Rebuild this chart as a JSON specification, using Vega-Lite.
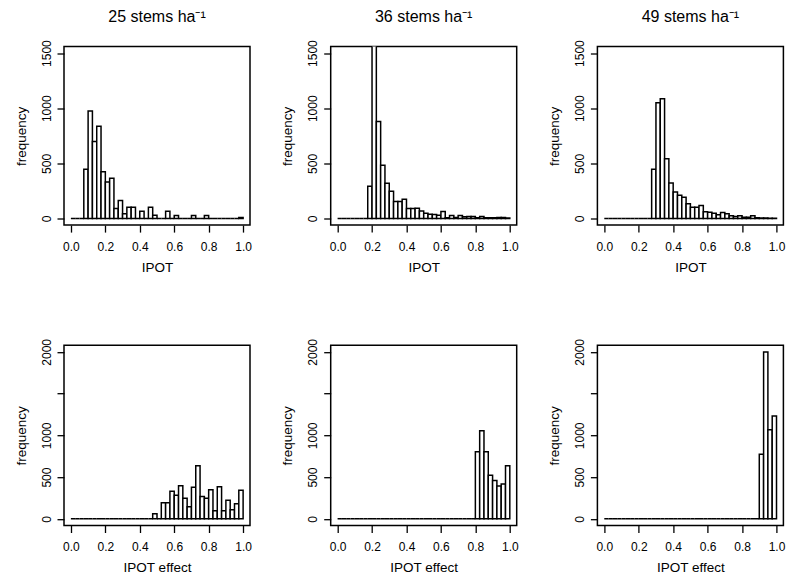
{
  "$schema": "https://vega.github.io/schema/vega-lite/v6.json",
  "padding": {"left": 13, "top": 7.5, "right": 5, "bottom": 5},
  "datasets": {
    "bins": [
      {"p":1,"lo":0,"hi":0.025,"n":0},{"p":1,"lo":0.025,"hi":0.05,"n":0},{"p":1,"lo":0.05,"hi":0.075,"n":0},{"p":1,"lo":0.075,"hi":0.1,"n":446},
      {"p":1,"lo":0.1,"hi":0.125,"n":976},{"p":1,"lo":0.125,"hi":0.15,"n":699},{"p":1,"lo":0.15,"hi":0.175,"n":837},{"p":1,"lo":0.175,"hi":0.2,"n":425},
      {"p":1,"lo":0.2,"hi":0.225,"n":331},{"p":1,"lo":0.225,"hi":0.25,"n":364},{"p":1,"lo":0.25,"hi":0.275,"n":90},{"p":1,"lo":0.275,"hi":0.3,"n":163},
      {"p":1,"lo":0.3,"hi":0.325,"n":42},{"p":1,"lo":0.325,"hi":0.35,"n":102},{"p":1,"lo":0.35,"hi":0.375,"n":102},{"p":1,"lo":0.375,"hi":0.4,"n":0},
      {"p":1,"lo":0.4,"hi":0.425,"n":66},{"p":1,"lo":0.425,"hi":0.45,"n":0},{"p":1,"lo":0.45,"hi":0.475,"n":102},{"p":1,"lo":0.475,"hi":0.5,"n":30},
      {"p":1,"lo":0.5,"hi":0.525,"n":0},{"p":1,"lo":0.525,"hi":0.55,"n":0},{"p":1,"lo":0.55,"hi":0.575,"n":66},{"p":1,"lo":0.575,"hi":0.6,"n":0},
      {"p":1,"lo":0.6,"hi":0.625,"n":27},{"p":1,"lo":0.625,"hi":0.65,"n":0},{"p":1,"lo":0.65,"hi":0.675,"n":0},{"p":1,"lo":0.675,"hi":0.7,"n":0},
      {"p":1,"lo":0.7,"hi":0.725,"n":27},{"p":1,"lo":0.725,"hi":0.75,"n":0},{"p":1,"lo":0.75,"hi":0.775,"n":0},{"p":1,"lo":0.775,"hi":0.8,"n":27},
      {"p":1,"lo":0.8,"hi":0.825,"n":0},{"p":1,"lo":0.825,"hi":0.85,"n":0},{"p":1,"lo":0.85,"hi":0.875,"n":0},{"p":1,"lo":0.875,"hi":0.9,"n":0},
      {"p":1,"lo":0.9,"hi":0.925,"n":0},{"p":1,"lo":0.925,"hi":0.95,"n":0},{"p":1,"lo":0.95,"hi":0.975,"n":0},{"p":1,"lo":0.975,"hi":1,"n":8},

      {"p":2,"lo":0,"hi":0.025,"n":0},{"p":2,"lo":0.025,"hi":0.05,"n":0},{"p":2,"lo":0.05,"hi":0.075,"n":0},{"p":2,"lo":0.075,"hi":0.1,"n":0},
      {"p":2,"lo":0.1,"hi":0.125,"n":0},{"p":2,"lo":0.125,"hi":0.15,"n":0},{"p":2,"lo":0.15,"hi":0.175,"n":0},{"p":2,"lo":0.175,"hi":0.2,"n":292},
      {"p":2,"lo":0.2,"hi":0.225,"n":1600},{"p":2,"lo":0.225,"hi":0.25,"n":880},{"p":2,"lo":0.25,"hi":0.275,"n":482},{"p":2,"lo":0.275,"hi":0.3,"n":319},
      {"p":2,"lo":0.3,"hi":0.325,"n":247},{"p":2,"lo":0.325,"hi":0.35,"n":154},{"p":2,"lo":0.35,"hi":0.375,"n":154},{"p":2,"lo":0.375,"hi":0.4,"n":175},
      {"p":2,"lo":0.4,"hi":0.425,"n":90},{"p":2,"lo":0.425,"hi":0.45,"n":90},{"p":2,"lo":0.45,"hi":0.475,"n":93},{"p":2,"lo":0.475,"hi":0.5,"n":69},
      {"p":2,"lo":0.5,"hi":0.525,"n":48},{"p":2,"lo":0.525,"hi":0.55,"n":39},{"p":2,"lo":0.55,"hi":0.575,"n":36},{"p":2,"lo":0.575,"hi":0.6,"n":30},
      {"p":2,"lo":0.6,"hi":0.625,"n":63},{"p":2,"lo":0.625,"hi":0.65,"n":6},{"p":2,"lo":0.65,"hi":0.675,"n":27},{"p":2,"lo":0.675,"hi":0.7,"n":8},
      {"p":2,"lo":0.7,"hi":0.725,"n":27},{"p":2,"lo":0.725,"hi":0.75,"n":15},{"p":2,"lo":0.75,"hi":0.775,"n":18},{"p":2,"lo":0.775,"hi":0.8,"n":18},
      {"p":2,"lo":0.8,"hi":0.825,"n":6},{"p":2,"lo":0.825,"hi":0.85,"n":18},{"p":2,"lo":0.85,"hi":0.875,"n":6},{"p":2,"lo":0.875,"hi":0.9,"n":6},
      {"p":2,"lo":0.9,"hi":0.925,"n":6},{"p":2,"lo":0.925,"hi":0.95,"n":10},{"p":2,"lo":0.95,"hi":0.975,"n":10},{"p":2,"lo":0.975,"hi":1,"n":5},

      {"p":3,"lo":0,"hi":0.025,"n":0},{"p":3,"lo":0.025,"hi":0.05,"n":0},{"p":3,"lo":0.05,"hi":0.075,"n":0},{"p":3,"lo":0.075,"hi":0.1,"n":0},
      {"p":3,"lo":0.1,"hi":0.125,"n":0},{"p":3,"lo":0.125,"hi":0.15,"n":0},{"p":3,"lo":0.15,"hi":0.175,"n":0},{"p":3,"lo":0.175,"hi":0.2,"n":0},
      {"p":3,"lo":0.2,"hi":0.225,"n":0},{"p":3,"lo":0.225,"hi":0.25,"n":0},{"p":3,"lo":0.25,"hi":0.275,"n":0},{"p":3,"lo":0.275,"hi":0.3,"n":446},
      {"p":3,"lo":0.3,"hi":0.325,"n":1049},{"p":3,"lo":0.325,"hi":0.35,"n":1085},{"p":3,"lo":0.35,"hi":0.375,"n":542},{"p":3,"lo":0.375,"hi":0.4,"n":322},
      {"p":3,"lo":0.4,"hi":0.425,"n":241},{"p":3,"lo":0.425,"hi":0.45,"n":211},{"p":3,"lo":0.45,"hi":0.475,"n":193},{"p":3,"lo":0.475,"hi":0.5,"n":133},
      {"p":3,"lo":0.5,"hi":0.525,"n":102},{"p":3,"lo":0.525,"hi":0.55,"n":102},{"p":3,"lo":0.55,"hi":0.575,"n":117},{"p":3,"lo":0.575,"hi":0.6,"n":60},
      {"p":3,"lo":0.6,"hi":0.625,"n":57},{"p":3,"lo":0.625,"hi":0.65,"n":48},{"p":3,"lo":0.65,"hi":0.675,"n":33},{"p":3,"lo":0.675,"hi":0.7,"n":54},
      {"p":3,"lo":0.7,"hi":0.725,"n":42},{"p":3,"lo":0.725,"hi":0.75,"n":24},{"p":3,"lo":0.75,"hi":0.775,"n":18},{"p":3,"lo":0.775,"hi":0.8,"n":24},
      {"p":3,"lo":0.8,"hi":0.825,"n":12},{"p":3,"lo":0.825,"hi":0.85,"n":12},{"p":3,"lo":0.85,"hi":0.875,"n":24},{"p":3,"lo":0.875,"hi":0.9,"n":6},
      {"p":3,"lo":0.9,"hi":0.925,"n":5},{"p":3,"lo":0.925,"hi":0.95,"n":5},{"p":3,"lo":0.95,"hi":0.975,"n":3},{"p":3,"lo":0.975,"hi":1,"n":3},

      {"p":4,"lo":0,"hi":0.025,"n":0},{"p":4,"lo":0.025,"hi":0.05,"n":0},{"p":4,"lo":0.05,"hi":0.075,"n":0},{"p":4,"lo":0.075,"hi":0.1,"n":0},
      {"p":4,"lo":0.1,"hi":0.125,"n":0},{"p":4,"lo":0.125,"hi":0.15,"n":0},{"p":4,"lo":0.15,"hi":0.175,"n":0},{"p":4,"lo":0.175,"hi":0.2,"n":0},
      {"p":4,"lo":0.2,"hi":0.225,"n":0},{"p":4,"lo":0.225,"hi":0.25,"n":0},{"p":4,"lo":0.25,"hi":0.275,"n":0},{"p":4,"lo":0.275,"hi":0.3,"n":0},
      {"p":4,"lo":0.3,"hi":0.325,"n":0},{"p":4,"lo":0.325,"hi":0.35,"n":0},{"p":4,"lo":0.35,"hi":0.375,"n":0},{"p":4,"lo":0.375,"hi":0.4,"n":0},
      {"p":4,"lo":0.4,"hi":0.425,"n":0},{"p":4,"lo":0.425,"hi":0.45,"n":0},{"p":4,"lo":0.45,"hi":0.475,"n":0},{"p":4,"lo":0.475,"hi":0.5,"n":60},
      {"p":4,"lo":0.5,"hi":0.525,"n":0},{"p":4,"lo":0.525,"hi":0.55,"n":194},{"p":4,"lo":0.55,"hi":0.575,"n":194},{"p":4,"lo":0.575,"hi":0.6,"n":330},
      {"p":4,"lo":0.6,"hi":0.625,"n":282},{"p":4,"lo":0.625,"hi":0.65,"n":395},{"p":4,"lo":0.65,"hi":0.675,"n":246},{"p":4,"lo":0.675,"hi":0.7,"n":145},
      {"p":4,"lo":0.7,"hi":0.725,"n":379},{"p":4,"lo":0.725,"hi":0.75,"n":637},{"p":4,"lo":0.75,"hi":0.775,"n":266},{"p":4,"lo":0.775,"hi":0.8,"n":246},
      {"p":4,"lo":0.8,"hi":0.825,"n":347},{"p":4,"lo":0.825,"hi":0.85,"n":97},{"p":4,"lo":0.85,"hi":0.875,"n":383},{"p":4,"lo":0.875,"hi":0.9,"n":97},
      {"p":4,"lo":0.9,"hi":0.925,"n":222},{"p":4,"lo":0.925,"hi":0.95,"n":109},{"p":4,"lo":0.95,"hi":0.975,"n":181},{"p":4,"lo":0.975,"hi":1,"n":343},

      {"p":5,"lo":0,"hi":0.025,"n":0},{"p":5,"lo":0.025,"hi":0.05,"n":0},{"p":5,"lo":0.05,"hi":0.075,"n":0},{"p":5,"lo":0.075,"hi":0.1,"n":0},
      {"p":5,"lo":0.1,"hi":0.125,"n":0},{"p":5,"lo":0.125,"hi":0.15,"n":0},{"p":5,"lo":0.15,"hi":0.175,"n":0},{"p":5,"lo":0.175,"hi":0.2,"n":0},
      {"p":5,"lo":0.2,"hi":0.225,"n":0},{"p":5,"lo":0.225,"hi":0.25,"n":0},{"p":5,"lo":0.25,"hi":0.275,"n":0},{"p":5,"lo":0.275,"hi":0.3,"n":0},
      {"p":5,"lo":0.3,"hi":0.325,"n":0},{"p":5,"lo":0.325,"hi":0.35,"n":0},{"p":5,"lo":0.35,"hi":0.375,"n":0},{"p":5,"lo":0.375,"hi":0.4,"n":0},
      {"p":5,"lo":0.4,"hi":0.425,"n":0},{"p":5,"lo":0.425,"hi":0.45,"n":0},{"p":5,"lo":0.45,"hi":0.475,"n":0},{"p":5,"lo":0.475,"hi":0.5,"n":0},
      {"p":5,"lo":0.5,"hi":0.525,"n":0},{"p":5,"lo":0.525,"hi":0.55,"n":0},{"p":5,"lo":0.55,"hi":0.575,"n":0},{"p":5,"lo":0.575,"hi":0.6,"n":0},
      {"p":5,"lo":0.6,"hi":0.625,"n":0},{"p":5,"lo":0.625,"hi":0.65,"n":0},{"p":5,"lo":0.65,"hi":0.675,"n":0},{"p":5,"lo":0.675,"hi":0.7,"n":0},
      {"p":5,"lo":0.7,"hi":0.725,"n":0},{"p":5,"lo":0.725,"hi":0.75,"n":0},{"p":5,"lo":0.75,"hi":0.775,"n":0},{"p":5,"lo":0.775,"hi":0.8,"n":0},
      {"p":5,"lo":0.8,"hi":0.825,"n":803},{"p":5,"lo":0.825,"hi":0.85,"n":1056},{"p":5,"lo":0.85,"hi":0.875,"n":803},{"p":5,"lo":0.875,"hi":0.9,"n":522},
      {"p":5,"lo":0.9,"hi":0.925,"n":458},{"p":5,"lo":0.925,"hi":0.95,"n":394},{"p":5,"lo":0.95,"hi":0.975,"n":418},{"p":5,"lo":0.975,"hi":1,"n":635},

      {"p":6,"lo":0,"hi":0.025,"n":0},{"p":6,"lo":0.025,"hi":0.05,"n":0},{"p":6,"lo":0.05,"hi":0.075,"n":0},{"p":6,"lo":0.075,"hi":0.1,"n":0},
      {"p":6,"lo":0.1,"hi":0.125,"n":0},{"p":6,"lo":0.125,"hi":0.15,"n":0},{"p":6,"lo":0.15,"hi":0.175,"n":0},{"p":6,"lo":0.175,"hi":0.2,"n":0},
      {"p":6,"lo":0.2,"hi":0.225,"n":0},{"p":6,"lo":0.225,"hi":0.25,"n":0},{"p":6,"lo":0.25,"hi":0.275,"n":0},{"p":6,"lo":0.275,"hi":0.3,"n":0},
      {"p":6,"lo":0.3,"hi":0.325,"n":0},{"p":6,"lo":0.325,"hi":0.35,"n":0},{"p":6,"lo":0.35,"hi":0.375,"n":0},{"p":6,"lo":0.375,"hi":0.4,"n":0},
      {"p":6,"lo":0.4,"hi":0.425,"n":0},{"p":6,"lo":0.425,"hi":0.45,"n":0},{"p":6,"lo":0.45,"hi":0.475,"n":0},{"p":6,"lo":0.475,"hi":0.5,"n":0},
      {"p":6,"lo":0.5,"hi":0.525,"n":0},{"p":6,"lo":0.525,"hi":0.55,"n":0},{"p":6,"lo":0.55,"hi":0.575,"n":0},{"p":6,"lo":0.575,"hi":0.6,"n":0},
      {"p":6,"lo":0.6,"hi":0.625,"n":0},{"p":6,"lo":0.625,"hi":0.65,"n":0},{"p":6,"lo":0.65,"hi":0.675,"n":0},{"p":6,"lo":0.675,"hi":0.7,"n":0},
      {"p":6,"lo":0.7,"hi":0.725,"n":0},{"p":6,"lo":0.725,"hi":0.75,"n":0},{"p":6,"lo":0.75,"hi":0.775,"n":0},{"p":6,"lo":0.775,"hi":0.8,"n":0},
      {"p":6,"lo":0.8,"hi":0.825,"n":0},{"p":6,"lo":0.825,"hi":0.85,"n":0},{"p":6,"lo":0.85,"hi":0.875,"n":0},{"p":6,"lo":0.875,"hi":0.9,"n":0},
      {"p":6,"lo":0.9,"hi":0.925,"n":775},{"p":6,"lo":0.925,"hi":0.95,"n":2000},{"p":6,"lo":0.95,"hi":0.975,"n":1068},{"p":6,"lo":0.975,"hi":1,"n":1233}
    ]
  },
  "data": {"name": "bins"},
  "config": {
    "font": "Liberation Sans",
    "view": {"stroke": "black", "strokeWidth": 1.5},
    "axis": {
      "domain": false, "grid": false, "ticks": true, "tickColor": "black", "tickSize": 7, "tickWidth": 1.3,
      "labelColor": "black", "labelFont": "Liberation Sans", "labelFontSize": 12,
      "titleFont": "Liberation Sans", "titleFontSize": 13.5, "titleFontWeight": "normal", "titleColor": "black",
      "labelOverlap": false
    },
    "axisX": {"labelPadding": 9, "titlePadding": 8, "labelFlush": false},
    "axisY": {"labelAngle": -90, "labelAlign": "center", "labelBaseline": "alphabetic", "labelPadding": 7, "titlePadding": 12},
    "title": {"fontSize": 16, "fontWeight": "normal", "font": "Liberation Sans", "color": "black", "offset": 15, "anchor": "middle", "frame": "group"}
  },
  "columns": 3,
  "spacing": {"row": 119.7, "column": 80.7},
  "bounds": "flush",
  "concat": [
    {
      "width": 186, "height": 178.6,
      "title": {"text": "25 stems ha⁻¹", "fontWeight": "normal"},
      "transform": [{"filter": "datum.p == 1"}],
      "mark": {"type": "rect", "fill": "white", "stroke": "black", "strokeWidth": 1.5, "clip": true},
      "encoding": {
        "x": {"field": "lo", "type": "quantitative", "scale": {"domain": [-0.04, 1.04], "nice": false, "zero": false}, "axis": {"values": [0, 0.2, 0.4, 0.6, 0.8, 1], "format": ".1f", "title": "IPOT"}},
        "x2": {"field": "hi"},
        "y": {"field": "n", "type": "quantitative", "scale": {"domain": [-60, 1560], "nice": false, "zero": false}, "axis": {"values": [0, 500, 1000, 1500], "format": "d", "title": "frequency"}},
        "y2": {"datum": 0}
      }
    },
    {
      "width": 186, "height": 178.6,
      "title": {"text": "36 stems ha⁻¹", "fontWeight": "normal"},
      "transform": [{"filter": "datum.p == 2"}],
      "mark": {"type": "rect", "fill": "white", "stroke": "black", "strokeWidth": 1.5, "clip": true},
      "encoding": {
        "x": {"field": "lo", "type": "quantitative", "scale": {"domain": [-0.04, 1.04], "nice": false, "zero": false}, "axis": {"values": [0, 0.2, 0.4, 0.6, 0.8, 1], "format": ".1f", "title": "IPOT"}},
        "x2": {"field": "hi"},
        "y": {"field": "n", "type": "quantitative", "scale": {"domain": [-60, 1560], "nice": false, "zero": false}, "axis": {"values": [0, 500, 1000, 1500], "format": "d", "title": "frequency"}},
        "y2": {"datum": 0}
      }
    },
    {
      "width": 186, "height": 178.6,
      "title": {"text": "49 stems ha⁻¹", "fontWeight": "normal"},
      "transform": [{"filter": "datum.p == 3"}],
      "mark": {"type": "rect", "fill": "white", "stroke": "black", "strokeWidth": 1.5, "clip": true},
      "encoding": {
        "x": {"field": "lo", "type": "quantitative", "scale": {"domain": [-0.04, 1.04], "nice": false, "zero": false}, "axis": {"values": [0, 0.2, 0.4, 0.6, 0.8, 1], "format": ".1f", "title": "IPOT"}},
        "x2": {"field": "hi"},
        "y": {"field": "n", "type": "quantitative", "scale": {"domain": [-60, 1560], "nice": false, "zero": false}, "axis": {"values": [0, 500, 1000, 1500], "format": "d", "title": "frequency"}},
        "y2": {"datum": 0}
      }
    },
    {
      "width": 186, "height": 180.3,
      "transform": [{"filter": "datum.p == 4"}],
      "mark": {"type": "rect", "fill": "white", "stroke": "black", "strokeWidth": 1.5, "clip": true},
      "encoding": {
        "x": {"field": "lo", "type": "quantitative", "scale": {"domain": [-0.04, 1.04], "nice": false, "zero": false}, "axis": {"values": [0, 0.2, 0.4, 0.6, 0.8, 1], "format": ".1f", "title": "IPOT effect"}},
        "x2": {"field": "hi"},
        "y": {"field": "n", "type": "quantitative", "scale": {"domain": [-80, 2080], "nice": false, "zero": false}, "axis": {"values": [0, 500, 1000, 1500, 2000], "format": "d", "labelExpr": "datum.value == 1500 ? '' : datum.label", "title": "frequency"}},
        "y2": {"datum": 0}
      }
    },
    {
      "width": 186, "height": 180.3,
      "transform": [{"filter": "datum.p == 5"}],
      "mark": {"type": "rect", "fill": "white", "stroke": "black", "strokeWidth": 1.5, "clip": true},
      "encoding": {
        "x": {"field": "lo", "type": "quantitative", "scale": {"domain": [-0.04, 1.04], "nice": false, "zero": false}, "axis": {"values": [0, 0.2, 0.4, 0.6, 0.8, 1], "format": ".1f", "title": "IPOT effect"}},
        "x2": {"field": "hi"},
        "y": {"field": "n", "type": "quantitative", "scale": {"domain": [-80, 2080], "nice": false, "zero": false}, "axis": {"values": [0, 500, 1000, 1500, 2000], "format": "d", "labelExpr": "datum.value == 1500 ? '' : datum.label", "title": "frequency"}},
        "y2": {"datum": 0}
      }
    },
    {
      "width": 186, "height": 180.3,
      "transform": [{"filter": "datum.p == 6"}],
      "mark": {"type": "rect", "fill": "white", "stroke": "black", "strokeWidth": 1.5, "clip": true},
      "encoding": {
        "x": {"field": "lo", "type": "quantitative", "scale": {"domain": [-0.04, 1.04], "nice": false, "zero": false}, "axis": {"values": [0, 0.2, 0.4, 0.6, 0.8, 1], "format": ".1f", "title": "IPOT effect"}},
        "x2": {"field": "hi"},
        "y": {"field": "n", "type": "quantitative", "scale": {"domain": [-80, 2080], "nice": false, "zero": false}, "axis": {"values": [0, 500, 1000, 1500, 2000], "format": "d", "labelExpr": "datum.value == 1500 ? '' : datum.label", "title": "frequency"}},
        "y2": {"datum": 0}
      }
    }
  ]
}
